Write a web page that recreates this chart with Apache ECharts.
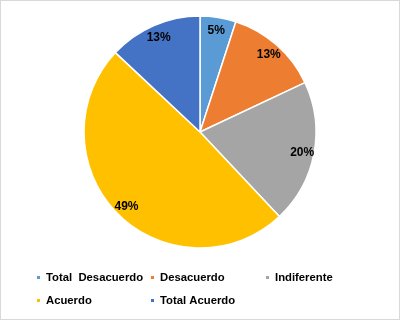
<!DOCTYPE html>
<html><head><meta charset="utf-8">
<script src="https://cdn.jsdelivr.net/npm/echarts@6/dist/echarts.min.js"></script>
<style>
html,body{margin:0;padding:0;background:#fff;}
#c{width:400px;height:320px;box-sizing:border-box;border:1px solid #d9d9d9;}
</style></head>
<body><div id="c"></div>
<script>
const categories = ['Total  Desacuerdo', 'Desacuerdo', 'Indiferente', 'Acuerdo', 'Total Acuerdo'];
const values = [5, 13, 20, 49, 13];
const colors = ['#5B9BD5', '#ED7D31', '#A5A5A5', '#FFC000', '#4472C4'];

const chart = echarts.init(document.getElementById('c'));
const data = categories.map((n, i) => ({ name: n, value: values[i], itemStyle: { color: colors[i] } }));
const font = '"Liberation Sans", Arial, sans-serif';
const legendBase = {
  orient: 'vertical', top: 271, padding: 0, itemWidth: 5, itemHeight: 5, itemGap: 12,
  icon: 'rect', selectedMode: false,
  textStyle: { fontFamily: font, fontWeight: 'bold', fontSize: 11.3, color: '#000' }
};
chart.setOption({
  animation: false,
  color: colors,
  legend: [
    Object.assign({}, legendBase, { left: 34, data: [categories[0], categories[3]] }),
    Object.assign({}, legendBase, { left: 148, data: [categories[1], categories[4]] }),
    Object.assign({}, legendBase, { left: 263, data: [categories[2]] })
  ],
  series: [
    {
      type: 'pie', center: [199, 131], radius: 116, startAngle: 90, clockwise: true,
      itemStyle: { borderColor: '#fff', borderWidth: 1.5 },
      label: { show: false }, labelLine: { show: false },
      data: data
    },
    {
      type: 'pie', center: [199, 132], radius: [84, 118], startAngle: 90, clockwise: true,
      silent: true, legendHoverLink: false,
      itemStyle: { color: 'transparent', borderWidth: 0 },
      label: { show: true, position: 'inside', formatter: '{d}%', fontFamily: font, fontWeight: 'bold', fontSize: 12, color: '#000' },
      labelLine: { show: false },
      data: categories.map((n, i) => ({ name: n, value: values[i] }))
    }
  ]
});
</script></body></html>
